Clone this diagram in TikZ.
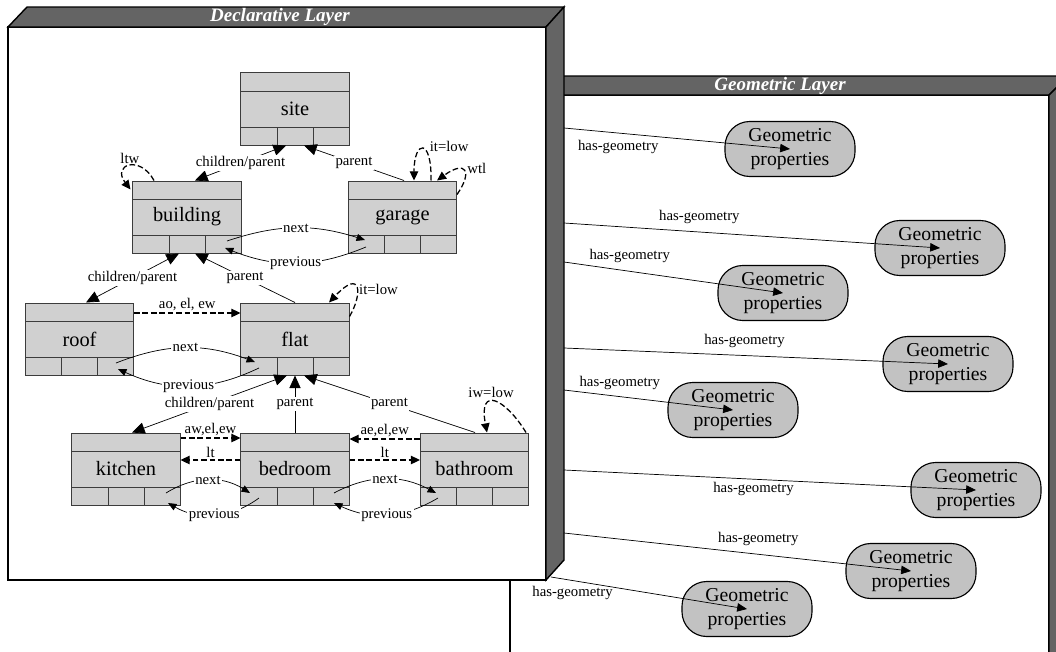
\documentclass[tikz,border=0pt]{standalone}
\usepackage{fontspec}
\setmainfont{Liberation Serif}
\usepackage{xcolor}
\usepackage{tikz}
\usetikzlibrary{
  arrows.meta,
  positioning,
  calc
}
\definecolor{panelgray}{HTML}{646464}
\definecolor{boxfill}{HTML}{D0D0D0}
\definecolor{boxedge}{HTML}{3C3C3C}
\definecolor{geofill}{HTML}{C2C2C2}

\begin{document}
\begin{tikzpicture}[
  x=0.025cm, y=-0.025cm,
  entbox/.style={draw=boxedge, fill=boxfill, line width=0.7pt,
    minimum width=2.7cm, minimum height=1.8cm, inner sep=0pt,
    font=\fontsize{14.5}{16}\selectfont,
    path picture={
      \draw[boxedge, line width=0.7pt]
        ([yshift=-0.45cm]path picture bounding box.north west) -- ([yshift=-0.45cm]path picture bounding box.north east)
        ([yshift=0.45cm]path picture bounding box.south west) -- ([yshift=0.45cm]path picture bounding box.south east)
        ([xshift=0.9cm]path picture bounding box.south west) -- ++(0,0.45cm)
        ([xshift=1.8cm]path picture bounding box.south west) -- ++(0,0.45cm);
    }},
  geobox/.style={draw, fill=geofill, line width=0.8pt, rounded corners=0.62cm,
    minimum width=3.25cm, minimum height=1.375cm, inner sep=0pt, align=center,
    font=\fontsize{14}{16.5}\selectfont},
  lbl/.style={font=\fontsize{10.5}{12}\selectfont, inner sep=1pt},
  onln/.style={lbl, fill=white},
  arrow/.style={-{Triangle[length=6pt, width=5pt]}, line width=0.5pt},
  bigarrow/.style={-{Triangle[length=9pt, width=8pt]}, line width=0.5pt},
  twoway/.style={{Triangle[length=9pt, width=8pt]}-{Triangle[length=9pt, width=8pt]}, line width=0.5pt},
  dasharrow/.style={-{Triangle[length=6.5pt, width=6pt]}, line width=0.9pt,
    dash pattern=on 4pt off 2pt},
  geoarrow/.style={-{Triangle[length=7pt, width=6pt]}, line width=0.5pt},
  layerwall/.style={draw, line width=1pt, fill=panelgray},
  layertitle/.style={font=\fontsize{13.5}{15}\selectfont\bfseries\itshape, text=white},
]
  \useasboundingbox (0,0) rectangle (1056,651);
  \clip (0,0) rectangle (1056,651);

  % geometric layer
  \draw[line width=1pt, fill=white] (510,95) rectangle (1049,700);
  \draw[layerwall] (510,95) -- (529,76) -- (1068,76) -- (1049,95) -- cycle;
  \draw[layerwall] (1049,95) -- (1068,76) -- (1068,700) -- (1049,700) -- cycle;
  \node[layertitle] (geotitle) at (780,86) {Geometric Layer};

  % declarative layer
  \draw[line width=1pt, fill=white] (8,27) rectangle (546,580);
  \draw[layerwall] (8,27) -- (27,7) -- (564,7) -- (546,27) -- cycle;
  \draw[layerwall] (546,27) -- (564,7) -- (564,560) -- (546,580) -- cycle;
  \node[layertitle] (dectitle) at (280,17) {Declarative Layer};

  \node[entbox] (site) at (295,109) {site};
  \node[entbox] (building) at (187,217) {building};
  \node[entbox] (garage) at (402.5,217) {garage};
  \node[entbox] (roof) at (79.5,339) {roof};
  \node[entbox] (flat) at (295,339) {flat};
  \node[entbox] (kitchen) at (126,469) {kitchen};
  \node[entbox] (bedroom) at (295,469) {bedroom};
  \node[entbox] (bathroom) at (474.5,469) {bathroom};

  \draw[twoway] ($(building.north)+(8,0)$) -- node[onln]{children/parent} ($(site.south)+(-9,0)$);
  \draw[bigarrow] ($(garage.north)+(1.5,0)$) -- node[onln]{parent} ($(site.south)+(9,0)$);
  \draw[twoway] ($(roof.north)+(6.5,0)$) -- node[onln]{children/parent} ($(building.south)+(-8,0)$);
  \draw[bigarrow] (flat.north) -- node[onln]{parent} ($(building.south)+(8,0)$);
  \draw[twoway] ($(kitchen.north)+(6,0)$) -- node[onln]{children/parent} ($(flat.south)+(-8,0)$);
  \draw[bigarrow] (bedroom.north) -- node[onln]{parent} (flat.south);
  \draw[bigarrow] ($(bathroom.north)+(0.5,0)$) -- node[onln]{parent} ($(flat.south)+(9,0)$);

  \draw[dasharrow] ($(roof.east)+(0,-26)$) -- node[lbl, above]{ao, el, ew} ($(flat.west)+(0,-26)$);
  \draw[dasharrow] ($(kitchen.east)+(0,-31)$) -- node[lbl, above]{aw,el,ew} ($(bedroom.west)+(0,-31)$);
  \draw[dasharrow] ($(bedroom.west)+(0,-9)$) -- node[lbl, above]{lt} ($(kitchen.east)+(0,-9)$);
  \draw[dasharrow] ($(bathroom.west)+(0,-30)$) -- node[lbl, above]{ae,el,ew} ($(bedroom.east)+(0,-30)$);
  \draw[dasharrow] ($(bedroom.east)+(0,-9)$) -- node[lbl, above]{lt} ($(bathroom.west)+(0,-9)$);

  \draw[arrow] ($(building.center)+(40,24)$) to[bend left=18] node[onln]{next} ($(garage.center)+(-37.5,23)$);
  \draw[arrow] ($(garage.center)+(-36.5,30)$) to[bend left=22] node[onln]{previous} ($(building.center)+(38,31)$);
  \draw[arrow] ($(roof.center)+(36.5,24)$) to[bend left=21] node[onln]{next} ($(flat.center)+(-40,23)$);
  \draw[arrow] ($(flat.center)+(-36,29)$) to[bend left=25] node[onln]{previous} ($(roof.center)+(38.5,30)$);
  \draw[arrow] ($(kitchen.center)+(40,24)$) to[bend left=32] node[onln]{next} ($(bedroom.center)+(-45,24)$);
  \draw[arrow] ($(bedroom.center)+(-36,29)$) to[bend left=33] node[onln]{previous} ($(kitchen.center)+(42,34)$);
  \draw[arrow] ($(bedroom.center)+(39,24)$) to[bend left=28] node[onln]{next} ($(bathroom.center)+(-38.5,24)$);
  \draw[arrow] ($(bathroom.center)+(-36.5,29)$) to[bend left=28] node[onln]{previous} ($(bedroom.center)+(39,34)$);

  \draw[dasharrow] ($(building.north)+(-33,0)$) .. controls +(-14,-26) and +(-19,-25) .. ($(building.north west)+(-2,9)$) node[lbl, pos=0.5, above]{ltw};
  \draw[dasharrow] ($(garage.north)+(28.5,0)$) .. controls +(1,-43) and +(0,-41) .. ($(garage.north)+(11.5,0)$) node[lbl, pos=0.3, anchor=south west]{it=low};
  \draw[dasharrow] ($(garage.north east)+(0,14)$) .. controls +(16,-23) and +(29,-21) .. ($(garage.north)+(34.5,0)$) node[lbl, pos=0.35, anchor=south west]{wtl};
  \draw[dasharrow] ($(flat.north east)+(0,14)$) .. controls +(13,-22) and +(33,-35) .. ($(flat.north)+(34,0)$) node[lbl, pos=0.45, anchor=west]{it=low};
  \draw[dasharrow] ($(bathroom.north east)+(-3,0)$) .. controls +(-20,-33) and +(-9,-48) .. ($(bathroom.north)+(12.5,0)$) node[lbl, pos=0.6, above, yshift=2pt]{iw=low};

  % geometric properties
  \node[geobox] (geo1) at (790,149) {Geometric\\properties};
  \node[geobox] (geo2) at (940,248) {Geometric\\properties};
  \node[geobox] (geo3) at (783,293) {Geometric\\properties};
  \node[geobox] (geo4) at (948,364) {Geometric\\properties};
  \node[geobox] (geo5) at (733,410) {Geometric\\properties};
  \node[geobox] (geo6) at (976,490) {Geometric\\properties};
  \node[geobox] (geo7) at (911,571) {Geometric\\properties};
  \node[geobox] (geo8) at (747,609) {Geometric\\properties};

  \coordinate (h1) at (564,128);
  \coordinate (h2) at (564,223);
  \coordinate (h3) at (564,262);
  \coordinate (h4) at (564,348);
  \coordinate (h5) at (564,390);
  \coordinate (h6) at (564,470);
  \coordinate (h7) at (564,533);
  \coordinate (h8) at (551,577);

  \draw[geoarrow] (h1) -- node[lbl, pos=0.24, below=4pt]{has-geometry} (geo1.center);
  \draw[geoarrow] (h2) -- node[lbl, pos=0.36, above=5pt]{has-geometry} (geo2.center);
  \draw[geoarrow] (h3) -- node[lbl, pos=0.30, above=5pt]{has-geometry} (geo3.center);
  \draw[geoarrow] (h4) -- node[lbl, pos=0.47, above=4pt]{has-geometry} (geo4.center);
  \draw[geoarrow] (h5) -- node[lbl, pos=0.33, above=4pt]{has-geometry} (geo5.center);
  \draw[geoarrow] (h6) -- node[lbl, pos=0.46, below=1pt]{has-geometry} (geo6.center);
  \draw[geoarrow] (h7) -- node[lbl, pos=0.56, above=5pt]{has-geometry} (geo7.center);
  \draw[geoarrow] (h8) -- node[lbl, pos=0.11, below=3pt]{has-geometry} (geo8.center);
\end{tikzpicture}
\end{document}
